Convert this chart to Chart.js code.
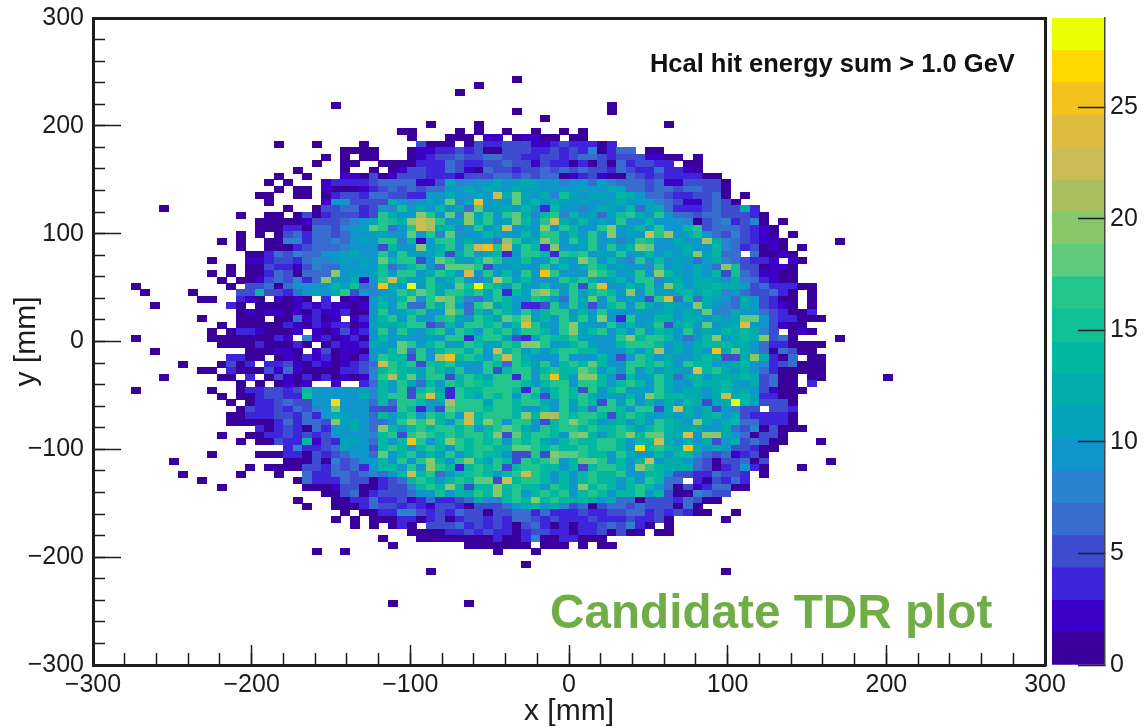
<!DOCTYPE html>
<html><head><meta charset="utf-8">
<style>html,body{margin:0;padding:0;background:#fff}canvas{position:absolute;left:0;top:0}</style>
<script src="https://cdn.jsdelivr.net/npm/chart.js@4"></script>
</head><body>
<canvas id="map" width="1144" height="727"></canvas>
<canvas id="bar" width="1144" height="727"></canvas>
<script>
// Hit counts. One string per y bin, starting at firstRow (from the top).
// Chunks are ten x bins each ("-" = ten empty bins); "." empty, otherwise a base-36 count.
const firstRow = 9;
const binSize = 6;
const axisRange = [-300, 300];
const cellRows = [
"- - - - ....1.....",
"- - - - 1.........",
"- - - ........1.",
"",
"- - .....1.... - - ....1.....",
"- - - - ....1..... ....1.....",
"- - - - .......1..",
"- - - .....1.... 1......... - 1.........",
"- - - ..11....1. 1..1..1..1 .1........",
"- - - ...1...111 .22.12211. 11........",
"- .........1 ...1....1. ....5111.1 5335552245 33313.....",
"- - ......1111 ...1223353 5115553353 5381366.11",
"- - ....1.1.11 ...1235565 5665533553 5675355522 11.1......",
"- - ...1..11.. 1111333653 3556552533 1315163553 3.11......",
"- - .1....1..1 .125533752 1655355656 5655375336 3321......",
"- .........1 ..1...2215 1255533325 5566565661 2352116535 333311....",
"- ........1. 1...233335 6776225c88 9acabdb998 9a7b876756 2255551...",
"- .........1 .11.211123 5656566a9c 9cbadbb99a ab9acb7756 6566551...",
"- .......11. .11.135536 65533aac9a bancibac8f babbaec977 5335561.1.",
"- ........1. ....299555 5d98abai8b pabaibeacb 9ba9bda9b8 75225651..",
".......1.. - 1..1557735 a8f9c9e9c6 i9bc9e94ea 98acb9e7bc 63335655c3",
"- .....1..11 .151355535 gca9kgai8j bg9gic8eg8 eab7bfgcag a775665553 1.........",
"- .......111 11255578ab gfcjnlgabj cgabie9gnd ae9bag99ea 9a81578358 1.1.......",
"- .......111 33166589bi g6agnlce89 gacm9baj9g ea9gkabe9g a9eg567653 21........",
"- .....1.1.1 57366579ab b99i9g8ia9 aeb99e9hg9 e9gajab9mg labfa65853 21.1......",
"- ...1.1..11 8836687ab9 gg8e29gg9c a96jgbcjg9 gbg9b89gf9 ac99ld8753 221.....1.",
"- .....1..11 13576789aa 5ea9kbdg9g nqgnbge4j9 9bg9gbekia 9bdaae8735 121.1.....",
"- ......1136 586699bdaa g9gb9be5dg 9be39gge3g fg9b9g9be9 c9cjbe76.6 1121......",
"- ..1...2235 53688ab9ba iegg5aigba eigbbfa9gb 9kg9e98g9e ab979c8653 32.21.....",
"- ....1.1153 325877a9b9 f69eg97iii g59ab99g9e 9bge9b998g ab9c96kf55 1221......",
"- ..1.1.1137 51766k9b9b f9gg9dge9n 9g9e9g9qg9 99ige9bgak eb9c9e5f65 2211......",
"- ...1.11257 5837j9ac29 gne9bgacg9 8bngbe999g egc9be9gg8 bc9dcb9c86 3211......",
"....1..... ....1.5561 69aa9ebf68 pd9s9gcaif sgeagb9e9b g5go99ebg9 ke9cceddb5 633311....",
".....1.... 1....55e55 36abacg5a8 9bgeigbhge gbh3ebilg9 gbege9k9gb 9cebec8975 5631.1....",
"- .11..321.2 121.3.1219 d9ei9gjie8 7bgeabgea6 gbi9gab95g o7f7cb96da 5311.1....",
"......1... ....41.111 1232322129 eag66gcib7 gibe9445g9 gb59egagc9 cb9kc986da 5321.1....",
"- .....12122 121322311a g9bega9jg6 ebge9g9egg 9e9g999b9b c9c9i88c9a 753113....",
"- .1...111.1 162312.23a eg9g99fgb9 gebigkbe9g bgbj93g99e e9dc9c9bii 9533111...",
"- ...1.11111 321323312b ddegg56e9h geg9eogb9g kb99g9e9bg 5ce9i9bco9 95211.....",
"- ..1.133211 12.212523a g9gb9eg9ge 9gegbgge9g kbegae9g9e c9h9cbecec 85.121....",
"....1..... ..11111113 2.82312319 e9b99b9gg4 eggb54bgee gb999gjegg e969ej9cec j561....1.",
"- ...1111311 131.13223d b9ig9eg9bg ebbgejjgab egb99eggge 9c9ceeecc9 7331111...",
"......1... ......1112 21.2512219 9ei6g9eggc g9neg9e9eg gee999e9el 9c9c9pcic9 616511....",
"- ....3311.1 2132312139 gee5g9lqeg e9gngc999h 999e959ge9 c99cec55cj c316.11...",
".........1 ...1513.33 5213212357 ngeg5fegb9 9ge6gebg9e geie99ggeg c9hee9bce9 8356111...",
"- .11.311152 6211113358 egedbgebg9 9g5egg9ege eig9e9g9e9 cb9oehc9c9 6311111...",
".......1.. ...11.3.15 2131312128 gleibhg5eg ebgg4g9gqe 9jke95e9bg c6deadccec 5711.11... ...1......",
"- .....1.1.1 212..2..37 ebgb6e9geh fehhge9egg 9gge9ege9g c99ecceb9c 5611.3....",
"....1..... ..1..13355 35eaa9aab8 e9g5egc3ge eggge3g9eh e5g9eg9b9g c9dc9cebc9 52111.....",
"- ...1.11355 33f9aa9ac8 egg5goe3ge bgeg9ge5eg egc9b9e9kg eecc9cnceb 3311......",
"- ....1.1335 6559ara9a6 e6ggeablgg gbggeggc9g bge5gbg9e9 c9ec5bcseb 5551......",
"- .....15335 36589i99a5 55ge395igg gegge99e9g 9e6gge9gg5 cnc9c59855 .553......",
"- ....113335 53739dbaa7 e9eg9geg9n egggejellg egge5egeb9 c9c9ce9c53 3331......",
"- ....111113 63765kbda7 69gkgke9gn ejg9gg95eg kge9de9e9g ec9kc9ce76 3331......",
"- .......313 531739aca7 ke9egeggeg 9egigc9geg gegeegeaeg eccc99c758 15111.....",
"- ...1..1133 535359aaa8 eg5higegeg gej5iegge9 ike9egkeii cco9kkc961 551.......",
"- .....1.115 33e253bba7 e9epg9ekge geg9gegc9e geegge9eem c9c9c59c56 511...1...",
"- - 383356baa5 ege9ehe9ge ggeeiigege egegge9reg ecpc9c9553 11........",
"- ..1....111 33153579a6 i9eg9ebg9e gee955g5ji igee9gc99e 9ee9656235 1.........",
"........1. - 111518579a e9g9gke9hj ebge5gegi9 eiig9e9em9 cc97515561 5......1..",
"- ......1.11 1155375639 ee9g9kge3e geg5ehgee9 e5egge9kge ccc6513593 1...1.....",
".........1 .....1...1 ..73367568 79emeg69ef ge9egnge9e 9egeeg99ee 955336553. 1.........",
"- .1........ .173337551 357ege9ege ii5negge9e 9egee9e9ge 76.315373.",
"- ...1...... ..11125511 3558egeke5 eejegee9ge 9jege9ege9 615236611.",
"- - ....115613 55579af9ec gejeg9egeg 9ege9eeg9e 5118655...",
"- - .1...11336 3352363357 d88egejege cec9c76155 537511....",
"- - ..1..11136 5535325531 55569ce9c8 5615665655 5171......",
"- - ......1.11 3388535375 5155663633 3533556635 35311..1..",
"- - .....1.1.1 1133135135 5353665353 3353335335 1.....1...",
"- - .......1.1 .131.55563 5353157313 133565831. 1.........",
"- - - ...1111335 3533135533 13351511.1 1.........",
"- - - 1...111111 1131138113 3111......",
"- - - .1.......1 111111.111 .1.11.....",
"- - ...1..1... - ..1...1...",
"",
"- - - - .....1....",
"- - - .....1.... - - ......1...",
"",
"",
"",
"",
"- - - .1.......1"
];
// z scale: 20 contour bands from 0 to 29
const bandSteps = [1.45,1.45,1.45,1.45,1.45,1.45,1.45,1.45,1.45,1.45,1.45,1.45,1.45,1.45,1.45,1.45,1.45,1.45,1.45,1.45];
const bandColors = ["#3a009c","#3c00c8","#3e24da","#3e4ccf","#386ccf","#2a82d0","#0f97cc","#04a3bb","#00adab","#02b8a2",
                    "#0fbf95","#22c58c","#5fc97c","#86c86a","#aabf5d","#ccbc54","#dfbc3f","#f3c21f","#ffd900","#eaff00"];
const xTitle = "x [mm]", yTitle = "y [mm]";
const notes = [
  {text:"Hcal hit energy sum > 1.0 GeV", x:51, y:250, font:"bold 25.5px 'Liberation Sans'", color:"#111"},
  {text:"Candidate TDR plot", x:-12, y:-265.5, font:"bold 47.7px 'Liberation Sans'", color:"#70ad47"}
];

const FONT = "'Liberation Sans', Arial, sans-serif";
const INK = "#1c1c1c";
const cells = [];
cellRows.forEach((row, r) => {
  if (!row) return;
  row.split(" ").forEach((chunk, c) => {
    if (chunk === "-") return;
    [...chunk].forEach((ch, k) => {
      if (ch === ".") return;
      const col = c * 10 + k, rowIdx = firstRow + r;
      cells.push({x: axisRange[0] + binSize * (col + 0.5), y: axisRange[1] - binSize * (rowIdx + 0.5), v: parseInt(ch, 36)});
    });
  });
});
function bandOf(v){ let s = 0; for (let i = 0; i < bandSteps.length; i++){ s += bandSteps[i]; if (v < s) return i; } return bandSteps.length - 1; }
const sprites = {};
function sprite(chart, v){
  const b = bandOf(v);
  if (sprites[b]) return sprites[b];
  const sx = chart.scales.x, sy = chart.scales.y;
  const w = Math.ceil(Math.abs(sx.getPixelForValue(binSize) - sx.getPixelForValue(0)));
  const h = Math.ceil(Math.abs(sy.getPixelForValue(binSize) - sy.getPixelForValue(0)));
  if (!(w > 0 && h > 0)) return "rect";
  const c = document.createElement("canvas");
  c.width = w; c.height = h;
  const g = c.getContext("2d");
  g.fillStyle = bandColors[b];
  g.fillRect(0, 0, w, h);
  return sprites[b] = c;
}
const fmt = v => v < 0 ? "\u2212" + Math.abs(v) : String(v);
const notePlugin = {
  id: "notes",
  afterDraw(chart){
    const {ctx, scales} = chart;
    ctx.save();
    ctx.textAlign = "left"; ctx.textBaseline = "alphabetic";
    notes.forEach(n => {
      ctx.font = n.font; ctx.fillStyle = n.color;
      ctx.fillText(n.text, scales.x.getPixelForValue(n.x), scales.y.getPixelForValue(n.y));
    });
    ctx.restore();
  }
};
const rangeOpts = {min: axisRange[0], max: axisRange[1]};
const noPad = s => { s.paddingTop = 0; s.paddingBottom = 0; s.paddingLeft = 0; s.paddingRight = 0; };
const frameScale = (axis, position) => ({
  axis, position, type: "linear", ...rangeOpts, afterFit: noPad,
  ticks: {display: false}, grid: {display: false},
  border: {display: true, width: 3, color: INK}
});
const minorScale = (axis, position) => ({
  axis, position, type: "linear", ...rangeOpts, afterFit: noPad,
  ticks: {display: false, stepSize: 20},
  grid: {display: true, drawOnChartArea: false, drawTicks: true, tickLength: -12, tickWidth: 1.5, tickColor: INK},
  border: {display: false}
});
new Chart(document.getElementById("map"), {
  type: "scatter",
  data: {datasets: [{
    data: cells,
    pointRadius: 1, pointHoverRadius: 1, borderWidth: 0,
    pointStyle: ctx => sprite(ctx.chart, ctx.raw.v)
  }]},
  plugins: [notePlugin],
  options: {
    responsive: false, animation: false, events: [],
    layout: {autoPadding: false, padding: {top: 18, right: 99, left: 0, bottom: 0}},
    plugins: {legend: {display: false}, tooltip: {enabled: false}},
    scales: {
      x: {type: "linear", position: "bottom", ...rangeOpts,
        afterFit(s){ noPad(s); s.height = 62; },
        ticks: {stepSize: 100, autoSkip: false, maxRotation: 0, color: INK, padding: 25, font: {family: FONT, size: 25}, callback: fmt},
        grid: {display: true, drawOnChartArea: false, tickLength: -20, tickWidth: 1.5, tickColor: INK},
        border: {display: true, width: 3, color: INK},
        title: {display: true, text: xTitle, color: INK, padding: {top: 0, bottom: -3}, font: {family: FONT, size: 30}}},
      y: {type: "linear", position: "left", ...rangeOpts,
        afterFit(s){ noPad(s); s.width = 93; },
        ticks: {stepSize: 100, autoSkip: false, color: INK, padding: 37, font: {family: FONT, size: 25}, callback: fmt},
        grid: {display: true, drawOnChartArea: false, tickLength: -28, tickWidth: 1.5, tickColor: INK},
        border: {display: true, width: 3, color: INK},
        title: {display: true, text: yTitle, color: INK, padding: {top: 9, bottom: 0}, font: {family: FONT, size: 30}}},
      xMinor: minorScale("x", {y: axisRange[0]}),
      yMinor: minorScale("y", {x: axisRange[0]}),
      xTop: frameScale("x", {y: axisRange[1]}),
      yRight: frameScale("y", {x: axisRange[1]})
    }
  }
});
new Chart(document.getElementById("bar"), {
  type: "bar",
  data: {labels: [""], datasets: bandSteps.map((h, i) => ({data: [h], backgroundColor: bandColors[i], borderWidth: 0, barPercentage: 1, categoryPercentage: 1}))},
  options: {
    responsive: false, animation: false, events: [],
    layout: {autoPadding: false, padding: {left: 1052, top: 18, bottom: 62, right: 0}},
    plugins: {legend: {display: false}, tooltip: {enabled: false}},
    scales: {
      x: {stacked: true, display: false},
      y: {stacked: true, position: "right", min: 0, max: 29,
        afterFit(s){ noPad(s); s.width = 39; },
        ticks: {stepSize: 5, includeBounds: false, color: INK, padding: 32, z: 1, font: {family: FONT, size: 25}},
        grid: {display: true, drawOnChartArea: false, tickLength: -27, tickWidth: 1.5, tickColor: INK, z: 1},
        border: {display: true, width: 1.5, color: "#444", z: 1}}
    }
  }
});
</script>
</body></html>
